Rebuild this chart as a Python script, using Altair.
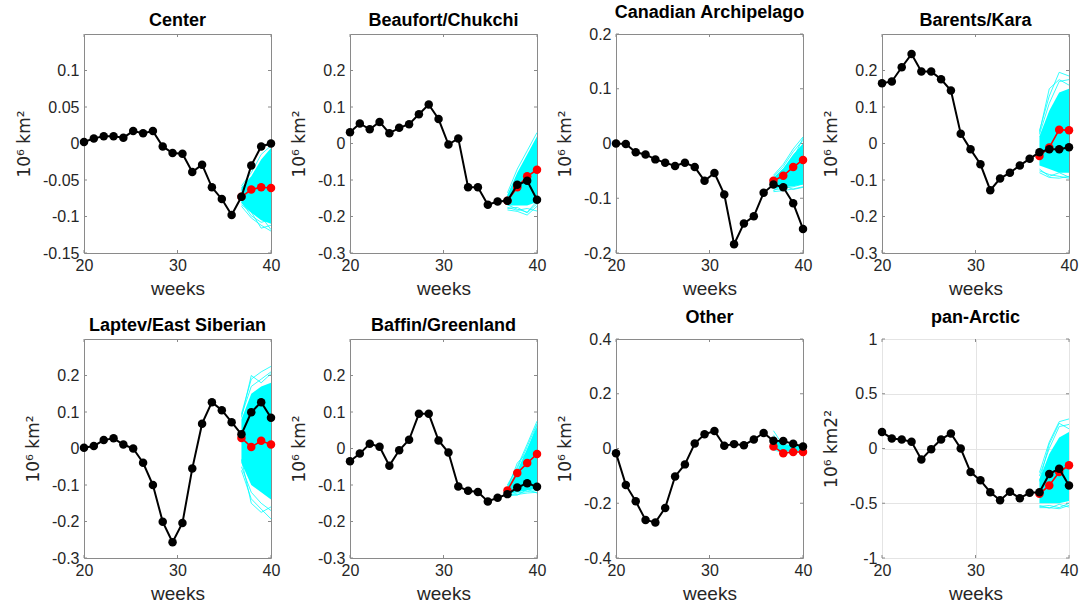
import altair as alt
import pandas as pd

# Week positions of the 20 weekly samples (evenly spaced from week 20 to week 40)
weeks = [20.00, 21.05, 22.11, 23.16, 24.21, 25.26, 26.32, 27.37, 28.42, 29.47,
         30.53, 31.58, 32.63, 33.68, 34.74, 35.79, 36.84, 37.89, 38.95, 40.00]
fc_weeks = weeks[16:]

titles = ["Center", "Beaufort/Chukchi", "Canadian Archipelago", "Barents/Kara",
          "Laptev/East Siberian", "Baffin/Greenland", "Other", "pan-Arctic"]
y_titles = ["10⁶ km²"] * 7 + ["10⁶ km2²"]
y_domains = [[-0.15, 0.15], [-0.3, 0.3], [-0.2, 0.2], [-0.3, 0.3],
             [-0.3, 0.3], [-0.3, 0.3], [-0.4, 0.4], [-1, 1]]
y_ticks = [[-0.15, -0.1, -0.05, 0, 0.05, 0.1],
           [-0.3, -0.2, -0.1, 0, 0.1, 0.2],
           [-0.2, -0.1, 0, 0.1, 0.2],
           [-0.3, -0.2, -0.1, 0, 0.1, 0.2],
           [-0.3, -0.2, -0.1, 0, 0.1, 0.2],
           [-0.3, -0.2, -0.1, 0, 0.1, 0.2],
           [-0.4, -0.2, 0, 0.2, 0.4],
           [-1, -0.5, 0, 0.5, 1]]
x_ticks = [20, 30, 40]

# Observed anomalies (black), ensemble-mean forecast (red),
# ensemble spread core (lo/hi) and outlying ensemble members (cyan)
center_obs = [0.002, 0.007, 0.010, 0.010, 0.008, 0.017, 0.014, 0.017, -0.004, -0.013,
              -0.014, -0.039, -0.029, -0.060, -0.076, -0.098, -0.073, -0.030, -0.004, 0.000]
center_fc = [-0.073, -0.063, -0.060, -0.061]
center_lo = [-0.082, -0.095, -0.105, -0.110]
center_hi = [-0.060, -0.045, -0.022, -0.006]
center_members = [[-0.058, -0.040, -0.015, -0.003], [-0.086, -0.102, -0.112, -0.120],
                  [-0.080, -0.099, -0.108, -0.104], [-0.064, -0.050, -0.030, -0.012],
                  [-0.084, -0.094, -0.116, -0.112], [-0.070, -0.088, -0.100, -0.118]]

beaufort_obs = [0.031, 0.055, 0.039, 0.059, 0.028, 0.043, 0.053, 0.080, 0.107, 0.067,
                -0.003, 0.014, -0.120, -0.120, -0.168, -0.159, -0.157, -0.113, -0.102, -0.154]
beaufort_fc = [-0.157, -0.120, -0.090, -0.072]
beaufort_lo = [-0.170, -0.170, -0.170, -0.160]
beaufort_hi = [-0.140, -0.080, -0.030, 0.020]
beaufort_members = [[-0.135, -0.070, -0.020, 0.030], [-0.182, -0.186, -0.196, -0.172],
                    [-0.178, -0.175, -0.190, -0.165], [-0.145, -0.090, -0.045, 0.010],
                    [-0.175, -0.183, -0.178, -0.185], [-0.168, -0.180, -0.188, -0.158]]

canadian_obs = [0.000, -0.001, -0.016, -0.020, -0.029, -0.035, -0.041, -0.035, -0.043, -0.068,
                -0.054, -0.093, -0.184, -0.146, -0.133, -0.090, -0.075, -0.080, -0.109, -0.156]
canadian_fc = [-0.068, -0.059, -0.043, -0.030]
canadian_lo = [-0.082, -0.080, -0.078, -0.075]
canadian_hi = [-0.062, -0.045, -0.020, 0.000]
canadian_members = [[-0.058, -0.038, -0.010, 0.012], [-0.088, -0.086, -0.083, -0.079],
                    [-0.085, -0.082, -0.079, -0.074], [-0.060, -0.042, -0.015, 0.006],
                    [-0.070, -0.050, -0.028, 0.010], [-0.086, -0.076, -0.084, -0.080]]

barents_obs = [0.165, 0.170, 0.209, 0.245, 0.197, 0.197, 0.176, 0.145, 0.027, -0.016,
               -0.057, -0.128, -0.096, -0.080, -0.060, -0.042, -0.024, -0.016, -0.016, -0.010]
barents_fc = [-0.034, -0.011, 0.038, 0.036]
barents_lo = [-0.060, -0.070, -0.080, -0.080]
barents_hi = [0.020, 0.090, 0.140, 0.150]
barents_members = [[0.035, 0.130, 0.195, 0.185], [-0.080, -0.093, -0.095, -0.090],
                   [-0.075, -0.085, -0.090, -0.095], [0.025, 0.110, 0.170, 0.175],
                   [0.030, 0.150, 0.175, 0.160], [-0.070, -0.090, -0.080, -0.092]]

laptev_obs = [0.002, 0.007, 0.023, 0.028, 0.011, 0.000, -0.039, -0.100, -0.201, -0.257,
              -0.204, -0.055, 0.068, 0.127, 0.105, 0.072, 0.039, 0.099, 0.127, 0.084]
laptev_fc = [0.029, 0.004, 0.021, 0.011]
laptev_lo = [-0.040, -0.100, -0.120, -0.140]
laptev_hi = [0.080, 0.150, 0.170, 0.180]
laptev_members = [[0.095, 0.190, 0.210, 0.225], [-0.060, -0.138, -0.166, -0.193],
                  [-0.050, -0.120, -0.150, -0.170], [0.090, 0.170, 0.190, 0.210],
                  [-0.030, -0.150, -0.175, -0.160], [0.085, 0.200, 0.180, 0.205]]

baffin_obs = [-0.035, -0.014, 0.013, 0.005, -0.047, -0.005, 0.024, 0.095, 0.095, 0.022,
              -0.011, -0.104, -0.116, -0.119, -0.145, -0.135, -0.125, -0.107, -0.095, -0.105]
baffin_fc = [-0.115, -0.067, -0.040, -0.015]
baffin_lo = [-0.125, -0.120, -0.115, -0.110]
baffin_hi = [-0.105, -0.060, 0.000, 0.060]
baffin_members = [[-0.100, -0.050, 0.012, 0.075], [-0.130, -0.126, -0.122, -0.120],
                  [-0.128, -0.122, -0.118, -0.115], [-0.102, -0.055, 0.005, 0.068],
                  [-0.110, -0.040, -0.010, 0.065], [-0.126, -0.128, -0.112, -0.122]]

other_obs = [-0.017, -0.133, -0.193, -0.261, -0.270, -0.217, -0.102, -0.058, 0.018, 0.052,
             0.064, 0.010, 0.016, 0.012, 0.033, 0.057, 0.028, 0.027, 0.017, 0.007]
other_fc = [0.007, -0.017, -0.013, -0.013]
other_lo = [0.000, -0.012, -0.010, -0.010]
other_hi = [0.040, 0.012, 0.012, 0.008]
other_members = [[0.065, 0.010, 0.015, 0.010], [-0.005, -0.015, -0.012, -0.012],
                 [0.050, -0.005, 0.005, 0.000], [0.010, 0.015, 0.010, 0.005]]

pan_obs = [0.150, 0.092, 0.083, 0.061, -0.101, -0.006, 0.083, 0.138, 0.000, -0.215,
           -0.291, -0.399, -0.472, -0.396, -0.454, -0.405, -0.399, -0.233, -0.184, -0.337]
pan_fc = [-0.414, -0.337, -0.215, -0.153]
pan_lo = [-0.500, -0.500, -0.500, -0.480]
pan_hi = [-0.280, -0.050, 0.100, 0.150]
pan_members = [[-0.220, 0.060, 0.245, 0.270], [-0.540, -0.540, -0.550, -0.520],
               [-0.530, -0.520, -0.540, -0.500], [-0.250, 0.000, 0.200, 0.220],
               [-0.300, 0.040, 0.230, 0.180], [-0.520, -0.545, -0.510, -0.535]]

series = [
    (center_obs, center_fc, center_lo, center_hi, center_members),
    (beaufort_obs, beaufort_fc, beaufort_lo, beaufort_hi, beaufort_members),
    (canadian_obs, canadian_fc, canadian_lo, canadian_hi, canadian_members),
    (barents_obs, barents_fc, barents_lo, barents_hi, barents_members),
    (laptev_obs, laptev_fc, laptev_lo, laptev_hi, laptev_members),
    (baffin_obs, baffin_fc, baffin_lo, baffin_hi, baffin_members),
    (other_obs, other_fc, other_lo, other_hi, other_members),
    (pan_obs, pan_fc, pan_lo, pan_hi, pan_members),
]

W, H = 187, 219
FONT = "Liberation Sans"
BOX = "#8a8a8a"
CYAN = "#00ffff"
RED = "#ff0000"
TICK = 3


def panel(i):
    obs, fc, lo, hi, members = series[i]
    grid = titles[i] == "pan-Arctic"
    xs = alt.Scale(domain=[20, 40], nice=False, zero=False)
    ys = alt.Scale(domain=y_domains[i], nice=False, zero=False)
    xax = alt.Axis(values=x_ticks, title="weeks", grid=grid, gridColor="#e4e4e4",
                   domain=False, ticks=False, tickSize=0, labelPadding=4,
                   labelFont=FONT, labelFontSize=16, labelColor="#262626",
                   titleFont=FONT, titleFontSize=19, titleFontWeight="normal",
                   titleColor="#262626", titlePadding=6, labelFlush=False)
    yax = alt.Axis(values=y_ticks[i], title=y_titles[i], grid=grid, gridColor="#e4e4e4",
                   domain=False, ticks=False, tickSize=0, labelPadding=5,
                   labelExpr="'' + datum.value",
                   labelFont=FONT, labelFontSize=16, labelColor="#262626",
                   titleFont="DejaVu Sans", titleFontSize=17, titleFontWeight="normal",
                   titleColor="#262626", titlePadding=9, labelFlush=False)

    obs_df = pd.DataFrame({"week": weeks, "value": obs})
    fc_df = pd.DataFrame({"week": fc_weeks, "value": fc})
    band_df = pd.DataFrame({"week": fc_weeks, "value": lo, "hi": hi})
    mem_df = pd.DataFrame([{"member": m, "week": w, "value": v}
                           for m, row in enumerate(members)
                           for w, v in zip(fc_weeks, row)])
    xt_df = pd.DataFrame({"week": x_ticks})
    yt_df = pd.DataFrame({"value": y_ticks[i]})

    x = alt.X("week:Q", scale=xs, axis=xax)
    y = alt.Y("value:Q", scale=ys, axis=yax)

    band = alt.Chart(band_df).mark_area(color=CYAN, opacity=1).encode(x=x, y=y, y2="hi:Q")
    ens = alt.Chart(mem_df).mark_line(color=CYAN, strokeWidth=0.8).encode(
        x=x, y=y, detail="member:N")
    red_line = alt.Chart(fc_df).mark_line(color=RED, strokeWidth=1.6).encode(x=x, y=y)
    red_pts = alt.Chart(fc_df).mark_point(color=RED, filled=True, opacity=1, size=72).encode(x=x, y=y)
    blk_line = alt.Chart(obs_df).mark_line(color="black", strokeWidth=2).encode(x=x, y=y)
    blk_pts = alt.Chart(obs_df).mark_point(color="black", filled=True, opacity=1, size=72).encode(x=x, y=y)

    # inward box ticks on all four sides
    xt_bot = alt.Chart(xt_df).mark_rule(color=BOX, strokeWidth=1).encode(
        x=x, y=alt.value(H - TICK), y2=alt.value(H))
    xt_top = alt.Chart(xt_df).mark_rule(color=BOX, strokeWidth=1).encode(
        x=x, y=alt.value(0), y2=alt.value(TICK))
    yt_left = alt.Chart(yt_df).mark_rule(color=BOX, strokeWidth=1).encode(
        y=y, x=alt.value(0), x2=alt.value(TICK))
    yt_right = alt.Chart(yt_df).mark_rule(color=BOX, strokeWidth=1).encode(
        y=y, x=alt.value(W - TICK), x2=alt.value(W))

    return alt.layer(
        xt_bot, xt_top, yt_left, yt_right,
        band, ens, red_line, red_pts, blk_line, blk_pts,
    ).properties(
        width=W, height=H,
        title=alt.TitleParams(text=titles[i], font=FONT, fontSize=18, fontWeight="bold",
                              color="black", offset=4, anchor="middle"),
    )


chart = alt.concat(
    *[panel(i) for i in range(8)],
    columns=4,
    spacing={"row": 86, "column": 79},
    bounds="flush",
).properties(
    padding={"left": 15, "top": 3, "right": 0, "bottom": 0},
    background="white",
).configure_view(stroke=BOX, strokeWidth=1)

chart.save("out.html", embed_options={"renderer": "svg", "actions": False})
